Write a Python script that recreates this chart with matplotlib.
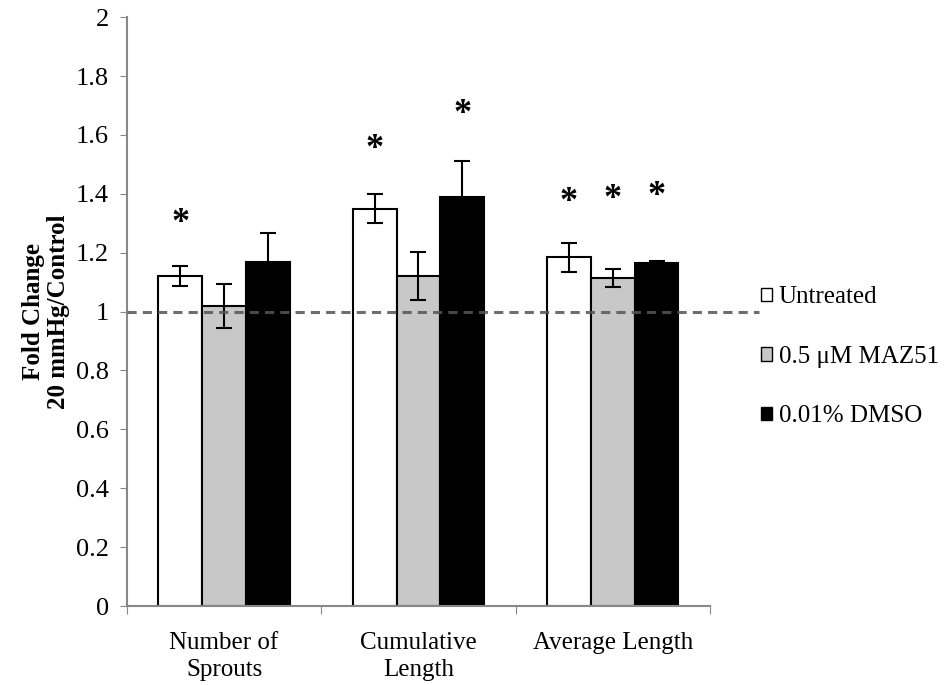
import matplotlib
matplotlib.use('Agg')
import matplotlib.pyplot as plt
import numpy as np
from matplotlib.patches import Patch

plt.rcParams['font.family'] = ['Liberation Serif', 'DejaVu Serif']

# data
categories = ['Number of\nSprouts', 'Cumulative\nLength', 'Average Length']
series = ['Untreated', '0.5 \u03bcM MAZ51', '0.01% DMSO']
colors = ['white', '#c8c8c8', 'black']
values = [[1.12, 1.35, 1.185],
          [1.02, 1.12, 1.115],
          [1.17, 1.39, 1.165]]
errors = [[0.034, 0.049, 0.049],
          [0.075, 0.082, 0.031],
          [0.098, 0.122, 0.008]]
# star positions (y) per series/category, None = no star
stars = [[1.30, 1.55, 1.37],
         [None, None, 1.38],
         [None, 1.67, 1.39]]

fig = plt.figure(figsize=(9.47, 6.85), dpi=100)
ax = fig.add_axes([0.134, 0.1153, 0.6157, 0.8597])

x = np.arange(len(categories)) + 0.5
w = 0.225
for i in range(len(series)):
    xs = x + (i - 1) * w
    ax.bar(xs, values[i], w, color=colors[i], edgecolor='black', linewidth=1.5,
           yerr=errors[i], capsize=6, error_kw=dict(elinewidth=1.5, capthick=1.5, ecolor='black'),
           label=series[i], zorder=2)
    for j in range(len(categories)):
        if stars[i][j] is not None:
            ax.text(xs[j], stars[i][j], '*', ha='center', va='center', fontsize=26,
                    fontweight='bold', zorder=4)

# dashed reference line at 1
ax.plot([0, 3.25], [1, 1], ls=(0, (3, 2)), color='#555555', lw=2.2, alpha=0.85,
        clip_on=False, zorder=3)

ax.set_xlim(0, 3)
ax.set_ylim(0, 2)
ax.set_yticks(np.arange(0, 2.01, 0.2))
ax.set_yticklabels(['0', '0.2', '0.4', '0.6', '0.8', '1', '1.2', '1.4', '1.6', '1.8', '2'])
ax.set_xticks([0, 1, 2, 3])
ax.set_xticklabels([])
ax.set_xticks(x, minor=True)
ax.set_xticklabels(categories, minor=True, linespacing=1.25)
ax.tick_params(axis='x', which='minor', length=0, labelsize=18, pad=19)
ax.tick_params(axis='x', which='major', length=6, color='#888888')
ax.tick_params(axis='y', length=5, color='#888888', labelsize=19, pad=8)
for s in ['top', 'right']:
    ax.spines[s].set_visible(False)
for s in ['left', 'bottom']:
    ax.spines[s].set_color('#888888')
    ax.spines[s].set_linewidth(1.5)

ax.set_ylabel('Fold Change\n20 mmHg/Control', fontsize=18, fontweight='bold', labelpad=4,
              linespacing=1.1)

handles = [Patch(facecolor=c, edgecolor='black', linewidth=1) for c in colors]
fig.legend(handles, series, loc='center left', bbox_to_anchor=(0.780, 0.479),
           frameon=False, fontsize=18, handlelength=0.45, handleheight=0.45,
           handletextpad=0.25, labelspacing=1.5)

fig.savefig('out.png', dpi=100)
